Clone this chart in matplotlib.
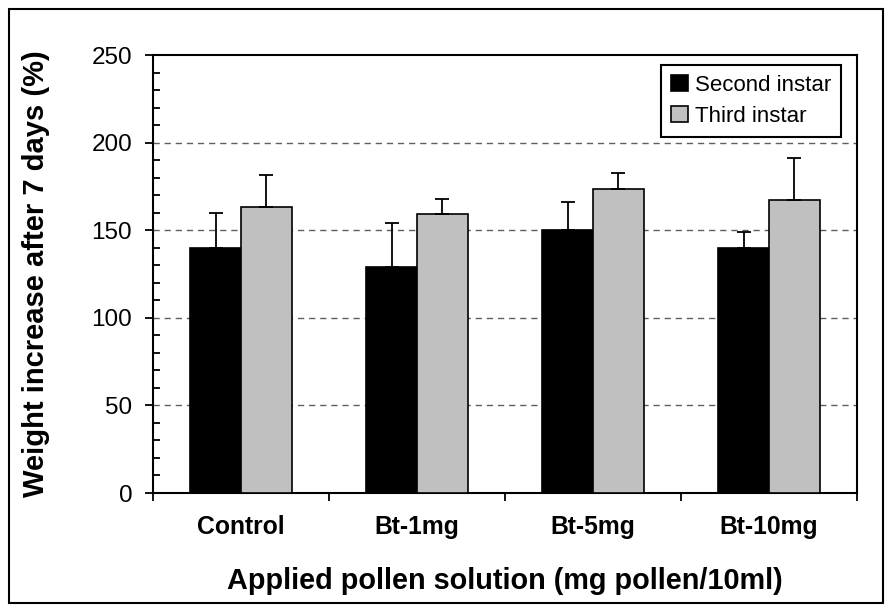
import numpy as np
import matplotlib
matplotlib.use('Agg')
import matplotlib.pyplot as plt
from matplotlib.patches import Rectangle, Patch
from matplotlib.ticker import MultipleLocator, FixedLocator

# ------------------------------------------------------------------ data
categories   = ['Control', 'Bt-1mg', 'Bt-5mg', 'Bt-10mg']
series_names = ['Second instar', 'Third instar']
second_vals  = [140, 129, 150, 140]
second_err   = [20, 25, 16, 9]
third_vals   = [163.5, 159, 173.5, 167]
third_err    = [18, 9, 9, 24]

plt.rcParams['font.family'] = ['Liberation Sans', 'DejaVu Sans']

fig = plt.figure(figsize=(8.92, 6.12), dpi=100)
ax = fig.add_axes([153/892, 1 - 493/612, 704/892, 438/612])

x = np.arange(len(categories)) + 0.5
w = 0.287
ekw = dict(ecolor='black', elinewidth=1.3, capsize=5.3, capthick=1.3)
for vals, err, col, off, name in [(second_vals, second_err, 'black', -w/2, series_names[0]),
                                  (third_vals, third_err, '#c0c0c0', w/2, series_names[1])]:
    ax.bar(x + off, vals, w, color=col, edgecolor='black', linewidth=1.2,
           yerr=[np.zeros(len(err)), err], error_kw=ekw, zorder=3, label=name)

# dashed grid lines behind bars
for yv in [50, 100, 150, 200]:
    ax.axhline(yv, color='#606060', lw=1.0, ls=(0, (4.5, 3.5)), zorder=1)

ax.set_xlim(0, len(categories))
ax.set_ylim(0, 250)

# y axis: majors out, minors in
ax.yaxis.set_major_locator(MultipleLocator(50))
ax.yaxis.set_minor_locator(MultipleLocator(10))
ax.tick_params(axis='y', which='major', direction='out', length=6, width=1.3,
               labelsize=17.5, pad=9)
ax.tick_params(axis='y', which='minor', direction='in', length=4.8, width=1.3)

# x axis: boundary ticks, labels at category centres
ax.xaxis.set_major_locator(FixedLocator(np.arange(len(categories) + 1)))
ax.xaxis.set_major_formatter(plt.NullFormatter())
ax.xaxis.set_minor_locator(FixedLocator(x))
ax.set_xticks(x, categories, minor=True)
ax.tick_params(axis='x', which='major', direction='out', length=6, width=1.3)
ax.tick_params(axis='x', which='minor', length=0, pad=16, labelsize=17.8)
for t in ax.get_xticklabels(minor=True):
    t.set_fontweight('bold')

for s in ax.spines.values():
    s.set_linewidth(1.5)

ax.set_xlabel('Applied pollen solution (mg pollen/10ml)', fontsize=20.8, fontweight='bold')
ax.xaxis.set_label_coords(0.5, -0.169)
ax.set_ylabel('Weight increase after 7 days (%)', fontsize=21, fontweight='bold')
ax.yaxis.set_label_coords(-0.146, 0.5)

handles = [Patch(facecolor='black', edgecolor='black', lw=1.2),
           Patch(facecolor='#c0c0c0', edgecolor='black', lw=1.2)]
leg = ax.legend(handles, series_names, loc='upper right',
                bbox_to_anchor=((841 - 153) / 704, (493 - 65) / 438),
                borderaxespad=0, fontsize=16, handlelength=0.75, handleheight=0.75,
                handletextpad=0.32, borderpad=0.45, labelspacing=0.45,
                fancybox=False, framealpha=1, edgecolor='black')
leg.get_frame().set_linewidth(1.5)

# outer frame
fig.add_artist(Rectangle((9/892, 9/612), 874/892, 594/612, transform=fig.transFigure,
                         fill=False, edgecolor='black', lw=1.5))

fig.savefig('out.png', dpi=100)
